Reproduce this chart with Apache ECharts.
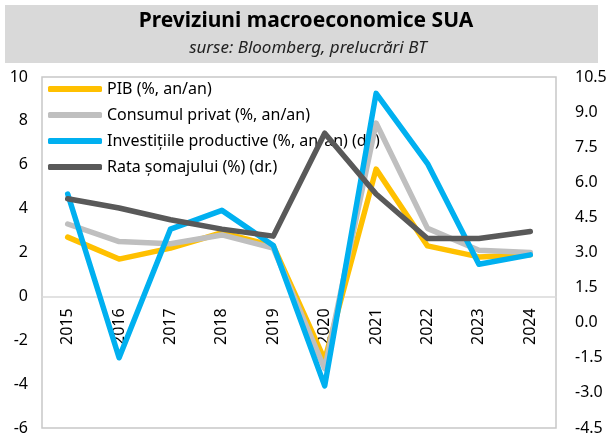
<!DOCTYPE html>
<html>
<head>
<meta charset="utf-8">
<script src="https://cdn.jsdelivr.net/npm/echarts@6/dist/echarts.min.js"></script>
<style>
  html, body { margin: 0; padding: 0; background: #fff; }
  #chart { width: 609px; height: 434px; }
</style>
</head>
<body>
<div id="chart"></div>
<script>
// categorii si serii
const years = ['2015', '2016', '2017', '2018', '2019', '2020', '2021', '2022', '2023', '2024']
const pib = [2.7, 1.7, 2.2, 2.9, 2.3, -2.9, 5.8, 2.3, 1.8, 1.9]
const consum = [3.3, 2.5, 2.4, 2.8, 2.2, -3.3, 7.9, 3.1, 2.1, 2.0]
const investitii = [5.5, -1.5, 4.0, 4.8, 3.3, -2.7, 9.8, 6.8, 2.5, 2.9] // dr.
const somaj = [5.3, 4.9, 4.4, 4.0, 3.7, 8.1, 5.5, 3.6, 3.6, 3.9] // dr.

const font = 'Noto Sans'

// grila
const gridTop = 77
const gridBottom = 6
const gridHeight = 434 - gridTop - gridBottom
const leftMin = -6
const leftMax = 10
// axa X e desenata la 0 pe axa stanga
const zeroOffset = -gridHeight * (0 - leftMin) / (leftMax - leftMin)

const chart = echarts.init(document.getElementById('chart'))

function lineSeries(name, data, color, axis) {
  return {
    name: name,
    type: 'line',
    yAxisIndex: axis,
    data: data,
    showSymbol: false,
    symbol: 'none',
    lineStyle: { color: color, width: 5.5, cap: 'round', join: 'round' },
    itemStyle: { color: color },
    emphasis: { disabled: true },
    animation: false
  }
}

chart.setOption({
  backgroundColor: '#fff',
  textStyle: { fontFamily: font },
  graphic: [
    {
      type: 'rect',
      shape: { x: 5, y: 5, width: 593, height: 58 },
      style: { fill: '#d9d9d9' },
      z: -1
    },
    {
      type: 'text',
      x: 306, y: 21,
      style: {
        text: 'Previziuni macroeconomice SUA',
        fontFamily: font,
        fontWeight: 'bold',
        fontSize: 21,
        fill: '#000',
        align: 'center',
        verticalAlign: 'middle'
      }
    },
    {
      type: 'text',
      x: 308, y: 48,
      style: {
        text: 'surse: Bloomberg, prelucrări BT',
        fontFamily: font,
        fontStyle: 'italic',
        fontSize: 17,
        fill: '#222',
        align: 'center',
        verticalAlign: 'middle'
      }
    }
  ],
  grid: {
    left: 42,
    right: 53,
    top: gridTop,
    bottom: gridBottom,
    show: true,
    borderColor: '#c8c8c8',
    borderWidth: 1.5,
    containLabel: false,
    outerBoundsMode: 'none'
  },
  legend: {
    orient: 'vertical',
    left: 43,
    top: 76,
    z: 1,
    itemWidth: 54,
    itemHeight: 6,
    itemGap: 10,
    icon: 'roundRect',
    textStyle: { fontFamily: font, fontSize: 16, color: '#000' },
    data: [
      'PIB (%, an/an)',
      'Consumul privat (%, an/an)',
      'Investițiile productive (%, an/an) (dr.)',
      'Rata șomajului (%) (dr.)'
    ]
  },
  xAxis: {
    type: 'category',
    data: years,
    boundaryGap: true,
    position: 'bottom',
    offset: zeroOffset,
    axisLine: { onZero: false, lineStyle: { color: '#d9d9d9', width: 1.5 } },
    axisTick: { show: false },
    axisLabel: { rotate: 90, margin: 12, fontSize: 16, color: '#000', fontFamily: font },
    splitLine: { show: false }
  },
  yAxis: [
    {
      type: 'value',
      min: leftMin,
      max: leftMax,
      interval: 2,
      axisLine: { show: false },
      axisTick: { show: false },
      splitLine: { show: false },
      axisLabel: { fontSize: 16, color: '#000', margin: 14, fontFamily: font }
    },
    {
      type: 'value',
      min: -4.5,
      max: 10.5,
      interval: 1.5,
      axisLine: { show: false },
      axisTick: { show: false },
      splitLine: { show: false },
      axisLabel: {
        fontSize: 16, color: '#000', margin: 19, fontFamily: font,
        formatter: v => v.toFixed(1)
      }
    }
  ],
  series: [
    lineSeries('PIB (%, an/an)', pib, '#ffc000', 0),
    lineSeries('Consumul privat (%, an/an)', consum, '#bfbfbf', 0),
    lineSeries('Investițiile productive (%, an/an) (dr.)', investitii, '#00b0f0', 1),
    lineSeries('Rata șomajului (%) (dr.)', somaj, '#595959', 1)
  ]
})
</script>
</body>
</html>
